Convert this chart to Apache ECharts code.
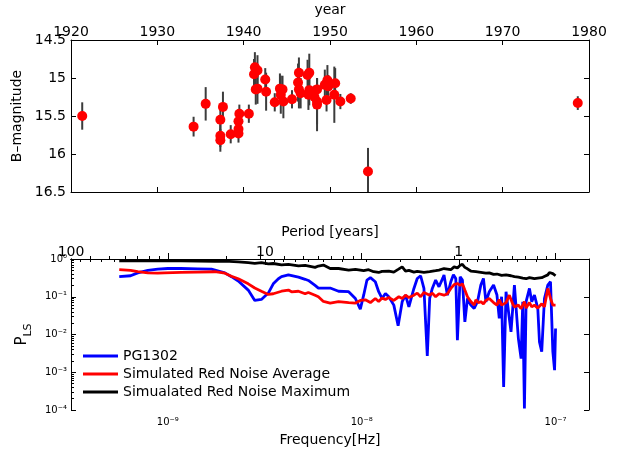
<!DOCTYPE html>
<html><head><meta charset="utf-8">
<script src="https://cdn.jsdelivr.net/npm/echarts@6/dist/echarts.min.js"></script>
<style>html,body{margin:0;padding:0;background:#fff}#c{width:617px;height:451px}</style>
</head><body><div id="c"></div>
<script>
// ---- top panel: B magnitudes ----
const years = [1921.3,1934.2,1935.6,1937.3,1937.6,1937.3,1937.3,1938.5,1939.4,1939.4,1939.5,1939.4,1940.6,
  1941.2,1941.3,1941.6,1941.4,1941.6,1942.5,1942.6,1943.6,1944.2,1944.5,1944.3,1944.6,1945.6,
  1946.3,1946.4,1946.4,1946.6,1947.4,1947.6,1947.6,1947.5,1948.2,1948.5,1948.5,1948.5,
  1949.4,1949.7,1949.8,1949.6,1950.6,1950.5,1951.2,1952.4,1954.4,1978.7];
const mags = [15.50,15.64,15.34,15.55,15.38,15.76,15.82,15.74,15.67,15.57,15.47,15.73,15.47,
  14.95,14.86,14.90,15.15,15.14,15.02,15.18,15.32,15.14,15.15,15.22,15.31,15.28,
  15.06,14.93,15.15,15.20,14.96,14.93,15.16,15.22,15.25,15.15,15.31,15.35,
  15.09,15.03,15.11,15.29,15.07,15.22,15.31,15.27,16.23,15.33];
const magErrs = [0.18,0.13,0.22,0.20,0.20,0.15,0.15,0.12,0.12,0.15,0.12,0.12,0.12,
  0.20,0.20,0.20,0.20,0.20,0.15,0.25,0.12,0.20,0.18,0.25,0.22,0.12,
  0.25,0.20,0.25,0.20,0.20,0.25,0.20,0.20,0.15,0.15,0.30,0.35,
  0.20,0.20,0.15,0.15,0.20,0.37,0.10,0.07,0.31,0.09];
const yearTicks = [1920,1930,1940,1950,1960,1970,1980];
const magTicks = [14.5,15,15.5,16,16.5];

// ---- bottom panel: Lomb-Scargle periodograms (frequency in nHz) ----
const blueFreq = [0.562,0.643,0.70,0.79,0.888,1.0,1.17,1.43,1.68,1.97,2.13,2.31,2.60,2.81,3.04,3.30,3.50,3.72,3.86,4.19,4.72,5.11,5.31,5.75,5.98,6.88,7.60,8.57,9.28,9.84,10.24,10.65,11.09,11.76,12.24,12.74,13.26,13.80,14.65,15.42,16.18,16.84,17.52,18.60,19.35,20.14,20.95,21.80,22.43,23.14,24.08,25.05,26.28,26.59,27.68,28.83,29.73,30.58,31.17,32.21,33.09,34.06,35.13,36.55,38.04,39.58,41.17,42.47,43.73,45.50,47.90,49.86,51.25,52.70,53.98,55.54,57.76,58.92,61.35,64.31,66.43,67.74,69.09,70.49,73.35,75.38,77.83,80.98,82.61,84.86,87.64,91.20,94.18,96.83,98.84,100];
const blueP = [0.34,0.36,0.43,0.50,0.54,0.56,0.56,0.55,0.54,0.43,0.34,0.26,0.15,0.08,0.085,0.125,0.22,0.30,0.34,0.38,0.33,0.29,0.27,0.20,0.17,0.17,0.14,0.136,0.09,0.047,0.11,0.277,0.32,0.25,0.136,0.09,0.122,0.10,0.06,0.017,0.074,0.111,0.054,0.166,0.305,0.36,0.166,0.0027,0.09,0.166,0.277,0.184,0.32,0.38,0.11,0.25,0.38,0.305,0.0071,0.34,0.277,0.0217,0.09,0.060,0.049,0.074,0.204,0.305,0.074,0.136,0.204,0.111,0.0266,0.10,0.00041,0.136,0.0266,0.0118,0.204,0.0078,0.0023,0.074,0.000109,0.074,0.166,0.074,0.111,0.049,0.0064,0.0035,0.09,0.204,0.25,0.0035,0.00114,0.0145];
const redFreq = [0.562,0.643,0.70,0.79,0.888,0.96,1.17,1.43,1.75,1.97,2.13,2.31,2.60,2.81,3.04,3.30,3.50,3.86,4.19,4.35,4.72,5.11,5.31,5.75,5.98,6.35,6.88,7.60,8.57,9.28,9.84,10.45,11.09,11.76,12.24,12.74,13.26,13.80,14.65,15.55,16.18,16.84,17.52,18.60,19.35,20.14,20.95,22.43,23.14,24.08,25.05,26.59,27.68,28.83,29.98,31.17,32.21,33.09,34.06,35.13,36.55,38.04,38.80,40.0,41.17,42.47,43.73,45.50,47.90,49.86,51.25,52.70,55.54,57.76,60.08,61.35,64.31,66.43,69.09,70.49,73.35,75.38,77.83,80.98,84.86,87.64,91.20,94.18,96.83,100];
const redP = [0.52,0.50,0.46,0.43,0.42,0.43,0.44,0.45,0.46,0.42,0.35,0.30,0.22,0.17,0.14,0.115,0.12,0.14,0.15,0.135,0.14,0.12,0.13,0.11,0.10,0.075,0.068,0.074,0.07,0.068,0.08,0.083,0.07,0.09,0.075,0.092,0.085,0.095,0.08,0.10,0.09,0.11,0.095,0.11,0.125,0.10,0.13,0.11,0.125,0.10,0.12,0.11,0.12,0.166,0.21,0.225,0.20,0.22,0.15,0.10,0.075,0.06,0.083,0.07,0.074,0.065,0.08,0.09,0.07,0.06,0.085,0.06,0.07,0.11,0.065,0.054,0.06,0.048,0.074,0.05,0.07,0.054,0.06,0.05,0.065,0.054,0.166,0.09,0.06,0.06];
const blackFreq = [0.562,0.70,0.888,1.17,1.43,1.75,1.97,2.31,2.60,2.81,3.04,3.30,3.50,3.86,4.19,4.72,5.11,5.75,5.98,6.35,6.88,7.60,8.57,9.28,10.24,10.86,11.53,12.24,12.74,13.80,14.65,15.42,16.18,16.84,17.52,18.60,19.35,20.95,22.43,24.08,25.05,26.59,28.83,29.98,31.17,32.21,33.09,34.06,35.13,36.55,38.80,41.17,43.73,45.50,47.90,49.86,52.70,55.54,58.92,61.35,64.31,67.74,70.49,73.35,77.83,80.98,84.86,88.0,91.20,93.0,96.83,100];
const blackP = [0.90,0.89,0.90,0.90,0.88,0.86,0.88,0.84,0.80,0.77,0.80,0.74,0.76,0.70,0.72,0.66,0.68,0.60,0.65,0.69,0.56,0.56,0.51,0.53,0.49,0.52,0.46,0.44,0.47,0.48,0.45,0.53,0.62,0.48,0.50,0.45,0.47,0.44,0.46,0.49,0.51,0.56,0.52,0.62,0.58,0.68,0.72,0.60,0.55,0.48,0.46,0.44,0.42,0.43,0.39,0.40,0.37,0.38,0.36,0.34,0.33,0.31,0.30,0.32,0.30,0.31,0.32,0.35,0.38,0.44,0.41,0.36];
const freqTicks = [1e-9,1e-8,1e-7];
const periodTicks = [100,10,1];
const powerTicks = [1e-4,1e-3,1e-2,1e-1,1];

const YEAR_LOG = Math.log10(365.25*86400);
const XMIN = -Math.log10(100) - YEAR_LOG;   // period 100 yr at left edge
const XMAX = -6.8275;
const YMIN = Math.log10(powerTicks[0]), YMAX = Math.log10(powerTicks[powerTicks.length-1]);
const FONT = "'DejaVu Sans', sans-serif";
const SUP = {'-':'\u207B','0':'\u2070','1':'\u00B9','2':'\u00B2','3':'\u00B3','4':'\u2074','5':'\u2075','6':'\u2076','7':'\u2077','8':'\u2078','9':'\u2079'};
const pow10 = e => '10' + String(e).split('').map(c=>SUP[c]).join('');

const freqMinor = [], periodMinor = [], powerMinor = [];
for (let n=-10;n<=-6;n++) for (let k=1;k<=9;k++){ const v=Math.log10(k)+n; if(v>=XMIN&&v<=XMAX) freqMinor.push(v); }
for (let n=-1;n<=2;n++) for (let k=1;k<=9;k++){ const v=-Math.log10(k*Math.pow(10,n))-YEAR_LOG; if(v>=XMIN-1e-6&&v<=XMAX) periodMinor.push(v); }
for (let n=-4;n<=-1;n++) for (let k=1;k<=9;k++){ powerMinor.push(Math.log10(k)+n); }
const freqMajor = freqTicks.map(f=>Math.log10(f));
const periodMajor = periodTicks.map(p=>-Math.log10(p)-YEAR_LOG);

const axLine = {show:true, lineStyle:{color:'#000', width:1}};
const noSplit = {show:false};
const tick = (len, vals) => Object.assign({inside:true,length:len,lineStyle:{color:'#000'}}, vals ? {customValues:vals} : {});

const chart = echarts.init(document.getElementById('c'), null, {renderer:'canvas'});
const lineSeries = (name, fx, py, color) => ({
  name, type:'line', xAxisIndex:2, yAxisIndex:2, symbol:'none', showSymbol:false, clip:true,
  data: fx.map((f,i)=>[Math.log10(f)-9, Math.log10(py[i])]),
  lineStyle:{color, width:2.8}, itemStyle:{color}, z:3
});

chart.setOption({
  animation:false,
  backgroundColor:'#fff',
  textStyle:{fontFamily:FONT, color:'#000'},
  grid:[{left:71,right:28,top:40,height:152},{left:71,right:28,top:259,height:151}],
  xAxis:[
    {gridIndex:0,type:'value',position:'top',min:yearTicks[0],max:yearTicks[yearTicks.length-1],interval:10,
     axisLine:axLine,axisTick:tick(5),splitLine:noSplit,
     axisLabel:{margin:1,fontSize:14,color:'#000',fontFamily:FONT,formatter:v=>String(v)},
     name:'year',nameLocation:'middle',nameGap:23,nameTextStyle:{fontSize:14,color:'#000',fontFamily:FONT}},
    {gridIndex:0,type:'value',position:'bottom',min:yearTicks[0],max:yearTicks[yearTicks.length-1],interval:10,
     axisLine:axLine,axisTick:tick(5),splitLine:noSplit,axisLabel:{show:false}},
    {gridIndex:1,type:'value',position:'bottom',min:XMIN,max:XMAX,
     axisLine:axLine,axisTick:tick(3,freqMinor),splitLine:noSplit,
     axisLabel:{customValues:freqMajor,margin:7,fontSize:10,color:'#000',fontFamily:FONT,formatter:v=>pow10(Math.round(v))},
     name:'Frequency[Hz]',nameLocation:'middle',nameGap:23,nameTextStyle:{fontSize:14,color:'#000',fontFamily:FONT}},
    {gridIndex:1,type:'value',position:'bottom',min:XMIN,max:XMAX,
     axisLine:axLine,axisTick:tick(6,freqMajor),splitLine:noSplit,axisLabel:{show:false}},
    {gridIndex:1,type:'value',position:'top',min:XMIN,max:XMAX,
     axisLine:axLine,axisTick:tick(3,periodMinor),splitLine:noSplit,
     axisLabel:{customValues:periodMajor,margin:0,fontSize:14,color:'#000',fontFamily:FONT,
       formatter:v=>String(Math.round(Math.pow(10,-v-YEAR_LOG)))},
     name:'Period [years]',nameLocation:'middle',nameGap:20,nameTextStyle:{fontSize:14,color:'#000',fontFamily:FONT}},
    {gridIndex:1,type:'value',position:'top',min:XMIN,max:XMAX,
     axisLine:axLine,axisTick:tick(6,periodMajor),splitLine:noSplit,axisLabel:{show:false}}
  ],
  yAxis:[
    {gridIndex:0,type:'value',position:'left',inverse:true,min:magTicks[0],max:magTicks[magTicks.length-1],interval:0.5,
     axisLine:axLine,axisTick:tick(5),splitLine:noSplit,
     axisLabel:{margin:5,fontSize:14,color:'#000',fontFamily:FONT,formatter:v=>String(v)},
     name:'B\u2013magnitude',nameLocation:'middle',nameGap:44,nameTextStyle:{fontSize:14,color:'#000',fontFamily:FONT}},
    {gridIndex:0,type:'value',position:'right',inverse:true,min:magTicks[0],max:magTicks[magTicks.length-1],interval:0.5,
     axisLine:axLine,axisTick:tick(5),splitLine:noSplit,axisLabel:{show:false}},
    {gridIndex:1,type:'value',position:'left',min:YMIN,max:YMAX,interval:1,
     axisLine:axLine,axisTick:tick(5),splitLine:noSplit,
     axisLabel:{margin:4,fontSize:10,color:'#000',fontFamily:FONT,formatter:v=>pow10(Math.round(v))},
     name:'{a|P}{b|LS}',nameLocation:'middle',nameGap:35,
     nameTextStyle:{color:'#000',fontFamily:FONT,rich:{a:{fontSize:15,fontFamily:FONT,color:'#000',lineHeight:24},
       b:{fontSize:11,fontFamily:FONT,color:'#000',verticalAlign:'bottom',lineHeight:24,padding:[9,0,0,0]}}}},
    {gridIndex:1,type:'value',position:'left',min:YMIN,max:YMAX,
     axisLine:axLine,axisTick:tick(3,powerMinor),splitLine:noSplit,axisLabel:{show:false}},
    {gridIndex:1,type:'value',position:'right',min:YMIN,max:YMAX,interval:1,
     axisLine:axLine,axisTick:tick(5),splitLine:noSplit,axisLabel:{show:false}}
  ],
  legend:{
    data:['PG1302','Simulated Red Noise Average','Simualated Red Noise Maximum'],
    orient:'vertical',left:83,top:349,itemWidth:35,itemHeight:3,icon:'rect',itemGap:4,
    textStyle:{fontSize:14,color:'#000',fontFamily:FONT},selectedMode:false,padding:0
  },
  series:[
    {type:'custom',xAxisIndex:0,yAxisIndex:0,clip:true,z:2,
     data:years.map((y,i)=>[y,mags[i]-magErrs[i],mags[i]+magErrs[i]]),
     encode:{x:0,y:[1,2]},
     renderItem:(params,api)=>{
       const p1=api.coord([api.value(0),api.value(1)]);
       const p2=api.coord([api.value(0),api.value(2)]);
       return {type:'line',shape:{x1:p1[0],y1:p1[1],x2:p2[0],y2:p2[1]},style:{stroke:'#3c3c3c',lineWidth:2}};
     }},
    {type:'scatter',xAxisIndex:0,yAxisIndex:0,symbolSize:10,z:3,
     itemStyle:{color:'#ff0000',opacity:1},
     data:years.map((y,i)=>[y,mags[i]])},
    lineSeries('PG1302',blueFreq,blueP,'#0000ff'),
    lineSeries('Simulated Red Noise Average',redFreq,redP,'#ff0000'),
    lineSeries('Simualated Red Noise Maximum',blackFreq,blackP,'#000000')
  ]
});
</script>
</body></html>
